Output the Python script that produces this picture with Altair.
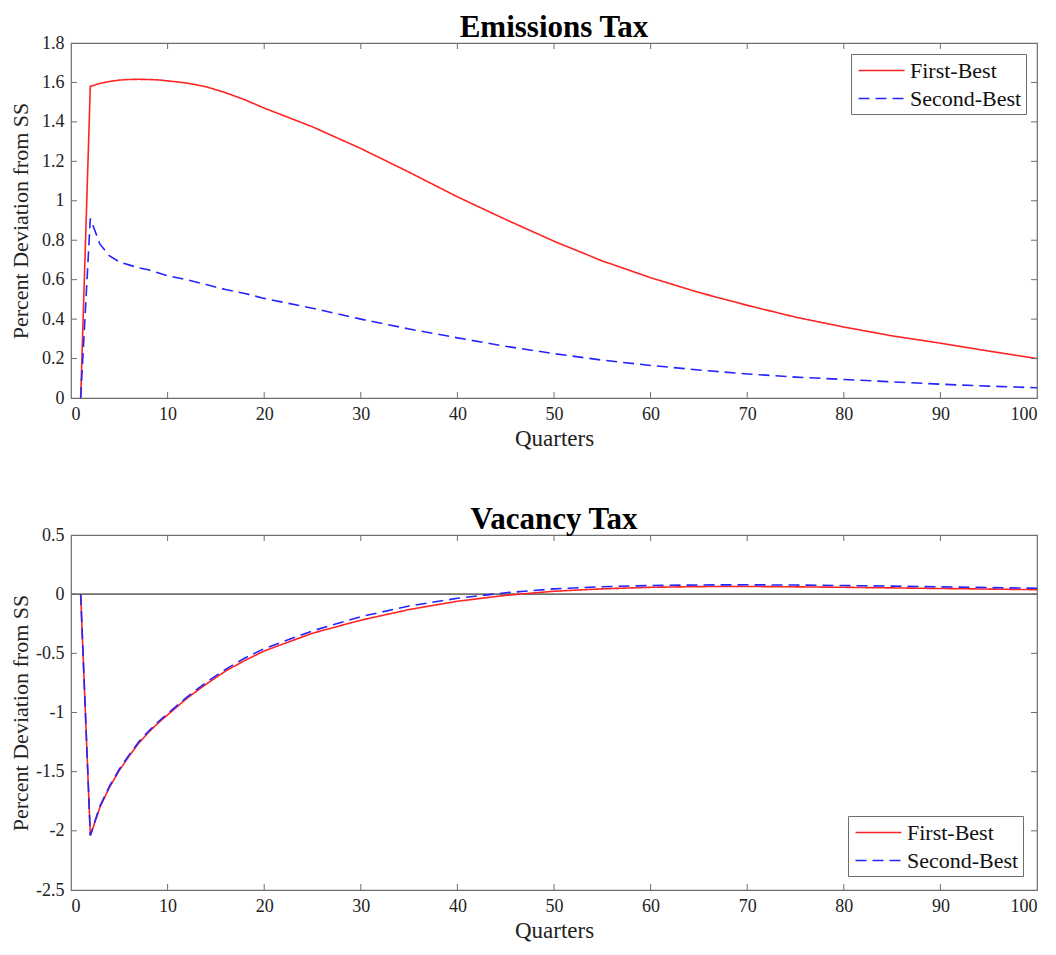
import altair as alt
import pandas as pd

# ---------------- data ----------------
series = ["First-Best", "Second-Best"]

quarters = [1, 2, 3, 4, 5, 6, 7, 8, 9, 10, 12, 14, 16, 18, 20, 25, 30, 35, 40, 45,
            50, 55, 60, 65, 70, 75, 80, 85, 90, 95, 100]

emis_first = [0, 1.58, 1.595, 1.605, 1.612, 1.615, 1.616, 1.615, 1.613, 1.608, 1.597,
              1.578, 1.548, 1.512, 1.47, 1.375, 1.265, 1.145, 1.02, 0.905, 0.795,
              0.695, 0.61, 0.535, 0.47, 0.41, 0.36, 0.315, 0.278, 0.238, 0.20]
emis_second = [0, 0.91, 0.78, 0.72, 0.69, 0.675, 0.66, 0.65, 0.635, 0.62, 0.6,
               0.575, 0.55, 0.53, 0.505, 0.455, 0.40, 0.35, 0.305, 0.262, 0.225,
               0.192, 0.165, 0.142, 0.122, 0.106, 0.094, 0.082, 0.07, 0.06, 0.052]

vac_first = [0, -2.04, -1.8, -1.63, -1.49, -1.37, -1.26, -1.17, -1.09, -1.02, -0.88,
             -0.76, -0.65, -0.56, -0.48, -0.33, -0.22, -0.13, -0.06, -0.01, 0.025,
             0.045, 0.058, 0.064, 0.065, 0.062, 0.058, 0.053, 0.048, 0.043, 0.038]
vac_second = [0, -2.04, -1.79, -1.62, -1.48, -1.36, -1.25, -1.16, -1.08, -1.01, -0.87,
              -0.745, -0.635, -0.54, -0.46, -0.31, -0.19, -0.10, -0.035, 0.012, 0.045,
              0.063, 0.073, 0.078, 0.079, 0.077, 0.073, 0.068, 0.062, 0.056, 0.05]

x_ticks = [0, 10, 20, 30, 40, 50, 60, 70, 80, 90, 100]
emis_y_ticks = [0, 0.2, 0.4, 0.6, 0.8, 1, 1.2, 1.4, 1.6, 1.8]
vac_y_ticks = [-2.5, -2, -1.5, -1, -0.5, 0, 0.5]

# ---------------- style ----------------
W, H = 966, 355
FONT = "Liberation Serif"
TICK = 6
FRAME = "#6e6e6e"


def long_df(q, a, b):
    rows = [{"q": x, "v": y, "s": series[0]} for x, y in zip(q, a)]
    rows += [{"q": x, "v": y, "s": series[1]} for x, y in zip(q, b)]
    return pd.DataFrame(rows)


def panel(df, title, ydomain, yticks, legend_orient, legend_offset, zero_line):
    xs = alt.Scale(domain=[0, 100], nice=False, zero=False)
    ys = alt.Scale(domain=ydomain, nice=False, zero=False)
    xaxis = alt.Axis(values=x_ticks, labelExpr="datum.value + ''", labelOverlap=False,
                     title="Quarters")
    yaxis = alt.Axis(values=yticks, labelExpr="datum.value + ''", labelOverlap=False,
                     title="Percent Deviation from SS", titleX=-39)
    leg = alt.Legend(
        title=None, orient=legend_orient, offset=legend_offset,
        fillColor="white", strokeColor=FRAME, padding=4,
        labelFont=FONT, labelFontSize=22, labelColor="#111",
        symbolType="M-2,0L2,0", symbolSize=529, symbolStrokeWidth=1.6,
        symbolOffset=14, labelOffset=16, rowPadding=4,
    )
    X = alt.X("q:Q", scale=xs, axis=xaxis)
    Y = alt.Y("v:Q", scale=ys, axis=yaxis)
    lines = alt.Chart(df).mark_line(strokeWidth=1.6).encode(
        x=X, y=Y,
        color=alt.Color("s:N", scale=alt.Scale(domain=series, range=["#ff2424", "#2424ff"]),
                        legend=leg),
        strokeDash=alt.StrokeDash("s:N", scale=alt.Scale(domain=series, range=[[1, 0], [11, 6]]),
                                  legend=leg),
        order=alt.Order("s:N"),
    )

    xt = pd.DataFrame({"q": x_ticks[1:-1]})
    yt = pd.DataFrame({"v": yticks[1:-1]})
    tick_color = alt.value(FRAME)
    bottom = alt.Chart(xt).mark_rule(strokeWidth=1).encode(
        x=X, y=alt.value(H), y2=alt.value(H - TICK), color=tick_color)
    top = alt.Chart(xt).mark_rule(strokeWidth=1).encode(
        x=X, y=alt.value(0), y2=alt.value(TICK), color=tick_color)
    left = alt.Chart(yt).mark_rule(strokeWidth=1).encode(
        y=Y, x=alt.value(0), x2=alt.value(TICK), color=tick_color)
    right = alt.Chart(yt).mark_rule(strokeWidth=1).encode(
        y=Y, x=alt.value(W), x2=alt.value(W - TICK), color=tick_color)

    layers = [lines, bottom, top, left, right]
    if zero_line:
        zl = alt.Chart(pd.DataFrame({"v": [0]})).mark_rule(strokeWidth=1.6).encode(
            y=Y, color=alt.value("#707070"))
        layers = [zl] + layers
    return alt.layer(*layers).properties(
        width=W, height=H,
        title=alt.TitleParams(title, font=FONT, fontSize=31, fontWeight="bold",
                              color="#000", offset=-10),
    )


top_chart = panel(long_df(quarters, emis_first, emis_second), "Emissions Tax",
                  [0, 1.8], emis_y_ticks, "top-right", 11, False)
bot_chart = panel(long_df(quarters, vac_first, vac_second), "Vacancy Tax",
                  [-2.5, 0.5], vac_y_ticks, "bottom-right", 14, True)

chart = alt.vconcat(top_chart, bot_chart, spacing=52).resolve_legend(
    color="independent", strokeDash="independent"
).resolve_scale(y="independent").properties(
    background="white",
    padding={"left": 0, "top": 3, "right": 5, "bottom": 5},
).configure_view(
    stroke=FRAME, strokeWidth=1.2
).configure_axis(
    ticks=False, domain=False, grid=False,
    labelFont=FONT, labelFontSize=18, labelColor="#222", labelPadding=7,
    titleFont=FONT, titleFontWeight="normal", titleColor="#222",
).configure_axisX(titlePadding=4, titleFontSize=23).configure_axisY(
    titlePadding=2, titleFontSize=22)

chart.save("out.html", embed_options={"renderer": "svg", "actions": False})
